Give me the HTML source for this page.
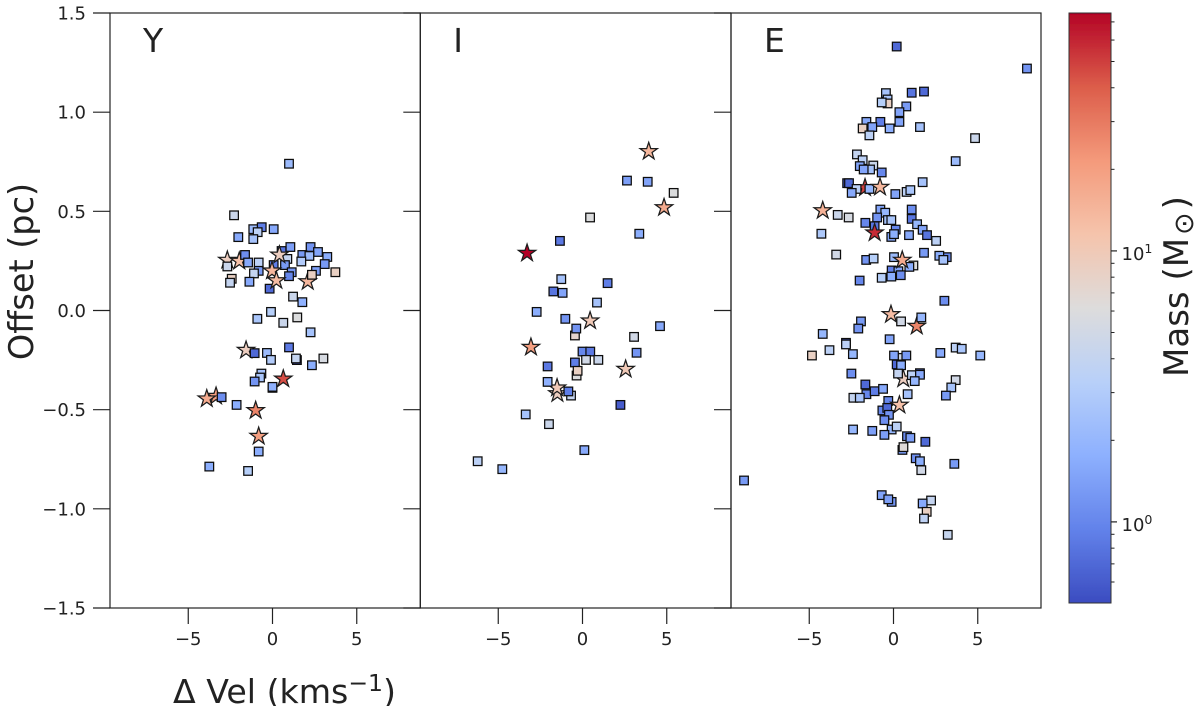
<!DOCTYPE html>
<html lang="en">
<head>
<meta charset="utf-8">
<title>Offset vs velocity by mass</title>
<style>
html,body{margin:0;padding:0;background:#fff;width:1200px;height:706px;overflow:hidden}
svg{display:block}
text{font-family:"DejaVu Sans","Liberation Sans",sans-serif;fill:#222}
</style>
</head>
<body>
<svg id="chart" xmlns="http://www.w3.org/2000/svg" width="1200" height="706" viewBox="0 0 1200 706">
<defs>
<filter id="soft" x="-2%" y="-2%" width="104%" height="104%"><feGaussianBlur stdDeviation="0.25"/></filter>
<linearGradient id="cbar-gradient" x1="0" y1="1" x2="0" y2="0"></linearGradient>
</defs>
<g id="root" filter="url(#soft)"></g>
</svg>
<script>
// ---------- chart data ----------
const panelNames = ["Y", "I", "E"];
const xTicks = [-5, 0, 5];
const yTicks = [-1.5, -1.0, -0.5, 0.0, 0.5, 1.0, 1.5];
const cbarMajor = [1, 10];
const cbarMinor = [0.6, 0.7, 0.8, 0.9, 2, 3, 4, 5, 6, 7, 8, 9, 20, 30, 40, 50, 60, 70];

const ySquareVel = [0.98,-2.28,-1.14,-0.64,0.07,-0.88,-2.03,-1.14,1.06,2.26,2.7,0.54,1.77,2.19,3.25,-1.63,0.88,1.71,3.1,-0.82,-1.45,-2.68,0.07,0.74,-0.82,-1.1,2.58,3.73,1.14,0.98,2.34,-2.42,-2.52,-1.37,-0.17,1.22,1.77,-0.09,-0.9,0.64,1.47,2.26,0.98,-1.06,-0.33,-0.09,1.45,1.39,2.34,3.02,-0.66,-0.74,-1.06,0,0,-3.02,-2.13,-0.82,-3.75,-1.45];
const ySquareOff = [0.74,0.48,0.41,0.42,0.41,0.395,0.37,0.36,0.32,0.32,0.295,0.3,0.28,0.275,0.27,0.28,0.26,0.247,0.234,0.242,0.242,0.222,0.229,0.229,0.2,0.187,0.2,0.193,0.193,0.173,0.18,0.16,0.14,0.145,0.11,0.07,0.042,-0.007,-0.042,-0.062,-0.035,-0.11,-0.186,-0.215,-0.214,-0.249,-0.25,-0.242,-0.276,-0.242,-0.318,-0.338,-0.358,-0.39,-0.385,-0.437,-0.476,-0.711,-0.787,-0.809];
const ySquareMass = [2.2,4.5,2.2,0.9,1.6,3.5,1.6,2.5,1.4,1.2,1.5,0.8,1.3,2.2,1.7,1.1,4,3,1.3,3.5,1.6,4.5,0.9,1.3,1.3,4,1.4,8.5,1.2,1,8.5,8.5,4,1.6,0.7,4.5,1.8,3.2,2.7,4.5,6,2.5,0.85,0.7,2.2,3,0.55,4,1.7,5.5,2.5,2.7,1.2,0.55,1.8,1.1,1.7,1.7,1.7,3.2];
const yStarVel = [-2.68,-1.97,0.41,-0.03,0.23,2.09,-1.57,0.64,-3.35,-3.9,-1.0,-0.82];
const yStarOff = [0.254,0.249,0.28,0.2,0.151,0.146,-0.2,-0.345,-0.432,-0.445,-0.504,-0.634];
const yStarMass = [9,12,9,14,13,14,9,45,20,17,27,20];
const yStarAbove = [0,0,1,1,1,0,0,1,0,1,1,1];

const iSquareVel = [2.64,3.87,5.41,0.45,3.37,-1.34,-1.26,-1.73,-1.18,1.49,0.86,-2.72,-1.02,-0.45,-0.37,4.6,3.06,3.21,0,0.46,0.21,0.94,-0.45,-2.07,-0.35,-0.29,-2.07,-0.68,-0.84,2.25,-3.37,-1.99,0.11,-6.22,-4.76];
const iSquareOff = [0.655,0.649,0.593,0.469,0.387,0.351,0.158,0.096,0.089,0.138,0.04,-0.007,-0.042,-0.126,-0.091,-0.079,-0.133,-0.213,-0.207,-0.207,-0.249,-0.249,-0.262,-0.282,-0.328,-0.304,-0.36,-0.429,-0.408,-0.476,-0.524,-0.573,-0.704,-0.76,-0.8];
const iSquareMass = [1.4,1.5,6,6,1.7,0.85,2.5,0.8,1.5,0.9,2.5,1.7,1.2,7.5,1.2,1.6,5,1.2,1,0.85,5,4.5,0.9,0.85,6,8.5,1.8,4,0.9,0.6,2.5,4.5,1.6,3.5,2];
const iStarVel = [3.93,4.84,-3.29,0.45,-3.06,2.56,-1.49,-1.51];
const iStarOff = [0.802,0.519,0.289,-0.052,-0.185,-0.296,-0.419,-0.39];
const iStarMass = [14,17,75,10,20,10,9,10];
const iStarAbove = [1,1,1,1,1,1,0,0];

const eSquareVel = [7.92,-8.87,0.19,1.81,1.08,-0.45,-0.35,-0.35,-0.7,0.76,0.35,0.35,-0.78,-1.61,-1.83,-1.26,-0.23,1.57,-1.43,4.84,3.69,-2.17,-1.83,-2,-1.2,-1.39,-1.77,-0.7,1.73,-2.75,-2.64,-2.19,-2.48,-1.43,0.11,0.78,1,-3.31,-2.66,-4.28,-0.78,-0.49,-0.97,-1.67,-0.33,-0.13,-1.12,0.13,-0.13,0.03,1.08,1.08,1.4,1.73,1.99,2.53,0.92,1.81,3.16,2.72,2.96,-3.4,-1.62,-1.18,0.03,1.18,0.94,-0.11,0.29,-0.7,-0.13,0.43,-2.01,3.02,0.45,1.65,-1.93,-2.09,-4.2,-0.23,-4.84,-3.8,-2.82,-2.82,-2.41,0.39,0.03,0.76,2.78,3.69,4.05,5.15,0.19,0.45,-2.5,0.27,1.09,1.57,1.57,1.26,3.69,3.43,3.11,0.84,-1.67,-1.61,-1.12,-0.62,-2.38,-2,-0.31,-0.66,-0.37,-0.27,-0.54,-2.4,-1.26,-0.11,-0.54,0.19,0.8,1,1.89,0.53,0.59,1.32,1.57,1.65,3.61,-0.7,-0.11,-0.31,2.23,1.73,1.97,1.81,3.22];
const eSquareOff = [1.22,-0.857,1.331,1.104,1.098,1.096,1.064,1.044,1.049,1.029,1,0.951,0.951,0.951,0.918,0.925,0.918,0.925,0.883,0.869,0.753,0.787,0.758,0.728,0.731,0.711,0.711,0.696,0.647,0.642,0.642,0.613,0.593,0.613,0.587,0.598,0.607,0.482,0.469,0.387,0.509,0.493,0.469,0.442,0.456,0.456,0.425,0.408,0.371,0.385,0.509,0.462,0.435,0.407,0.38,0.351,0.38,0.291,0.269,0.276,0.255,0.282,0.255,0.262,0.269,0.227,0.22,0.202,0.198,0.165,0.171,0.178,0.151,0.049,-0.055,-0.035,-0.055,-0.091,-0.118,-0.145,-0.227,-0.2,-0.163,-0.171,-0.22,-0.239,-0.227,-0.227,-0.214,-0.187,-0.193,-0.227,-0.272,-0.276,-0.318,-0.318,-0.326,-0.316,-0.324,-0.356,-0.351,-0.388,-0.429,-0.422,-0.373,-0.422,-0.407,-0.395,-0.44,-0.44,-0.456,-0.504,-0.491,-0.526,-0.553,-0.6,-0.607,-0.6,-0.627,-0.585,-0.634,-0.642,-0.662,-0.703,-0.689,-0.745,-0.76,-0.805,-0.773,-0.931,-0.965,-0.952,-0.958,-0.973,-1.015,-1.049,-1.131];
const eSquareMass = [1.2,1.3,0.7,0.7,0.8,2.5,2.7,8.5,3.2,1.3,1.5,1.5,0.9,1.6,8.5,1.5,1.7,2.5,3.5,4.5,2.2,4,3.5,1.5,4.5,2.5,1.5,1,2.5,0.6,0.7,3.5,1.6,2,1.5,3.5,2.7,4.5,5.5,2.8,1.5,2,1.2,1,2.5,2.7,0.8,1,1.5,1.7,1.1,0.8,2,1.5,0.8,3.5,1.6,1.3,1,1.7,2.5,5,1.2,3.2,2.2,6,1.7,0.9,1.5,3.2,1.7,1.1,1,1.1,5,2,1.3,1.2,2,1.5,8.5,3.5,0.6,3.5,2,5,1.5,1.3,1.6,3.5,2.7,2,0.7,1.7,1.1,4,3.5,0.8,1.6,2,5,2.5,1.3,2.5,0.7,1,0.9,1.6,4,2.7,1,1,0.7,1.2,1.1,2,1.4,2,1.4,3.5,1,1.4,0.7,1.3,6.5,1.1,1.7,5,1.3,1.5,1.2,1.4,4,1.6,8.5,3.7,4.2];
const eStarVel = [-1.69,-0.8,-4.2,-1.12,0.52,-0.15,1.38,0.58,0.35];
const eStarOff = [0.619,0.622,0.504,0.392,0.254,-0.02,-0.079,-0.345,-0.477];
const eStarMass = [50,14,15,57,17,13,27,9,12];
const eStarAbove = [0,1,1,1,1,1,0,0,1];

const coolwarmStops = ["#3b4cc0","#6282ea","#8db0fe","#b8d0f9","#dddcdc","#f5c4ac","#f49a7b","#dc5d4a","#b40426"];

// ---------- layout ----------
const NS = "http://www.w3.org/2000/svg";
const root = document.getElementById("root");
const plotTop = 13, plotBottom = 608;
const panelLeft = [110, 420.3, 731];
const panelRight = [420.3, 731, 1041];
const panelZero = [272.5, 582.5, 893.5];
const pxPerKms = 16.85;
const cbarX = 1069, cbarW = 42, cbarTop = 13, cbarBottom = 603;
const massMin = 0.502, massMax = 75.5;

function xScale(panel, v) { return panelZero[panel] + v * pxPerKms; }
function yScale(o) { return plotTop + (1.5 - o) / 3 * (plotBottom - plotTop); }
function massNorm(m) { return (Math.log10(m) - Math.log10(massMin)) / (Math.log10(massMax) - Math.log10(massMin)); }
function massY(m) { return cbarBottom - massNorm(m) * (cbarBottom - cbarTop); }
function hexRgb(h) { return [1, 3, 5].map(i => parseInt(h.substr(i, 2), 16)); }
function massColor(m) {
  const t = Math.max(0, Math.min(1, massNorm(m))) * (coolwarmStops.length - 1);
  const i = Math.min(Math.floor(t), coolwarmStops.length - 2);
  const a = hexRgb(coolwarmStops[i]), b = hexRgb(coolwarmStops[i + 1]);
  const f = t - i;
  return "rgb(" + a.map((c, k) => Math.round(c + (b[k] - c) * f)).join(",") + ")";
}
function make(tag, attrs, parent) {
  const el = document.createElementNS(NS, tag);
  for (const k in attrs) el.setAttribute(k, attrs[k]);
  (parent || root).appendChild(el);
  return el;
}
function tickLine(x1, y1, x2, y2, w, parent) {
  const el = make("line", { x1: x1, y1: y1, x2: x2, y2: y2, stroke: "#222", "stroke-width": w }, parent);
  
  
  return el;
}
function label(x, y, str, size, anchor, parent) {
  const el = make("text", { x: x, y: y, "font-size": size, "text-anchor": anchor }, parent);
  el.textContent = str;
  return el;
}
function drawSquare(panel, v, o, m, parent) {
  const el = make("rect", {
    x: xScale(panel, v) - 4.3, y: yScale(o) - 4.3, width: 8.6, height: 8.6,
    fill: massColor(m), stroke: "#0a0a0a", "stroke-width": 1.25
  }, parent);
  
  
}
function drawStar(panel, v, o, m, parent) {
  const cx = xScale(panel, v), cy = yScale(o);
  const pts = [];
  for (let i = 0; i < 10; i++) {
    const r = i % 2 ? 3.5 : 9.1;
    const a = -Math.PI / 2 + i * Math.PI / 5;
    pts.push((cx + r * Math.cos(a)).toFixed(2) + "," + (cy + r * Math.sin(a)).toFixed(2));
  }
  const el = make("polygon", {
    points: pts.join(" "), fill: massColor(m), stroke: "#1a1a1a",
    "stroke-width": 1.25, "stroke-linejoin": "miter"
  }, parent);
  
  
}

const squareSets = [[ySquareVel, ySquareOff, ySquareMass], [iSquareVel, iSquareOff, iSquareMass], [eSquareVel, eSquareOff, eSquareMass]];
const starSets = [[yStarVel, yStarOff, yStarMass, yStarAbove], [iStarVel, iStarOff, iStarMass, iStarAbove], [eStarVel, eStarOff, eStarMass, eStarAbove]];

// ---------- panels ----------
panelNames.forEach(function (name, p) {
  const g = make("g", {});
  
  

  const stars = starSets[p], squares = squareSets[p];
  stars[0].forEach(function (v, i) { if (!stars[3][i]) drawStar(p, v, stars[1][i], stars[2][i], g); });
  squares[0].forEach(function (v, i) { drawSquare(p, v, squares[1][i], squares[2][i], g); });
  stars[0].forEach(function (v, i) { if (stars[3][i]) drawStar(p, v, stars[1][i], stars[2][i], g); });

  const frame = make("rect", {
    x: panelLeft[p], y: plotTop, width: panelRight[p] - panelLeft[p], height: plotBottom - plotTop,
    fill: "none", stroke: "#222", "stroke-width": 1.2
  }, g);
  
  

  yTicks.forEach(function (t) {
    const y = yScale(t);
    tickLine(panelLeft[p] - 17, y, panelLeft[p], y, 1.2, g);
    if (p === 0) {
      const yl = label(86, y + 6.5, t.toFixed(1).replace("-", "\u2212"), 18, "end", g);
      
      
    }
  });
  xTicks.forEach(function (t) {
    const x = xScale(p, t);
    tickLine(x, plotBottom, x, plotBottom + 16, 1.2, g);
    const xl = label(x, 645, String(t).replace("-", "\u2212"), 18, "middle", g);
    
    
  });

  const title = label(panelLeft[p] + 33, 52, name, 33, "start", g);
  
  
});

// ---------- axis titles ----------
const yTitle = make("text", { "font-size": 33.5, "text-anchor": "middle", transform: "translate(33,271.5) rotate(-90)" });


yTitle.textContent = "Offset (pc)";

const xTitle = make("text", { x: 173, y: 703, "font-size": 33.2 });


xTitle.appendChild(document.createTextNode("\u0394 Vel (kms"));
const xSup = make("tspan", { "font-size": 23.5, dy: -12 }, xTitle);
xSup.textContent = "\u22121";
const xClose = make("tspan", { dy: 12 }, xTitle);
xClose.textContent = ")";

// ---------- colorbar ----------
const grad = document.getElementById("cbar-gradient");
coolwarmStops.forEach(function (c, i) {
  make("stop", { offset: i / (coolwarmStops.length - 1), "stop-color": c }, grad);
});
const cb = make("g", {});


const cbRect = make("rect", {
  x: cbarX, y: cbarTop, width: cbarW, height: cbarBottom - cbarTop,
  fill: "url(#cbar-gradient)", stroke: "#333", "stroke-width": 1
}, cb);


cbarMinor.forEach(function (m) {
  const y = massY(m);
  tickLine(cbarX + cbarW, y, cbarX + cbarW + 3.5, y, 1, cb);
});
cbarMajor.forEach(function (m) {
  const y = massY(m);
  tickLine(cbarX + cbarW, y, cbarX + cbarW + 6, y, 1.2, cb);
  const t = label(1121.5, y + 9.3, "10", 18, "start", cb);
  
  
  const s = make("tspan", { "font-size": 12.6, dy: -7 }, t);
  s.textContent = String(Math.round(Math.log10(m)));
});
const cbTitle = make("text", { "font-size": 34, "text-anchor": "middle", transform: "translate(1188,286.5) rotate(-90)" });


cbTitle.appendChild(document.createTextNode("Mass (M"));
const sun = make("tspan", { "font-size": 27, dx: 3, dy: 5 }, cbTitle);
sun.textContent = "\u2299";
const cbClose = make("tspan", { dx: 3, dy: -5 }, cbTitle);
cbClose.textContent = ")";
</script>
</body>
</html>
